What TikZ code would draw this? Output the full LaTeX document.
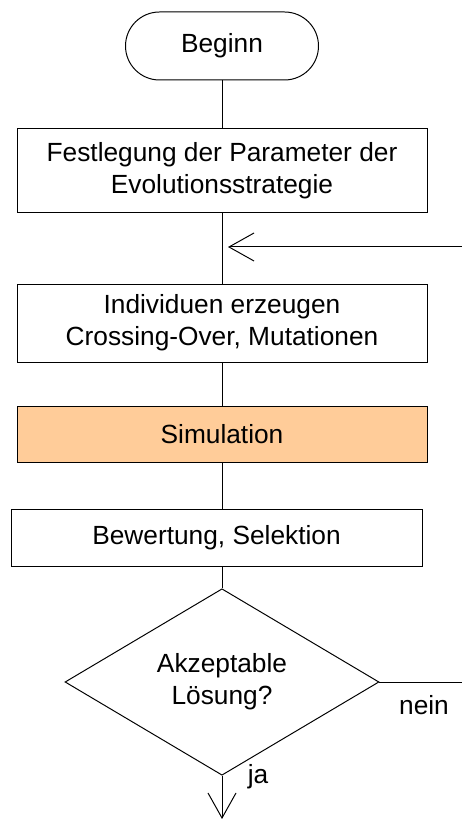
\documentclass[tikz,border=0pt]{standalone}
\usepackage{fontspec}
\setmainfont{Liberation Sans}
\usetikzlibrary{arrows.meta,shapes.geometric}
\definecolor{simorange}{HTML}{FFCC99}
\tikzset{
  esbox/.style={draw=black, line width=0.7pt, align=center, font=\fontsize{18.7}{22.7}\selectfont,
    inner sep=2pt, minimum width=10.25cm, fill=white},
  esstart/.style={esbox, rounded corners=0.85cm, minimum width=4.825cm, minimum height=1.7cm},
  essim/.style={esbox, fill=simorange},
  esdec/.style={diamond, draw=black, line width=0.7pt, align=center, font=\fontsize{18.7}{22.7}\selectfont,
    inner sep=0pt, minimum width=7.85cm, minimum height=3.75cm},
  eslabel/.style={font=\fontsize{18.7}{22.7}\selectfont, inner sep=0pt, anchor=base},
  esline/.style={draw=black, line width=0.7pt},
  esarrow/.style={esline, -{Straight Barb[length=0.625cm, width=0.7cm]}}
}
\begin{document}
\begin{tikzpicture}
  \useasboundingbox (0,0) rectangle (11.55,20.525);
  \node[esstart] (beginn) at (5.55,19.375) {Beginn};
  \node[esbox, minimum height=2.1cm] (festl) at (5.55,16.25) {Festlegung der Parameter der\\Evolutionsstrategie};
  \node[esbox, minimum height=1.95cm] (indiv) at (5.55,12.45) {Individuen erzeugen\\Crossing-Over, Mutationen};
  \node[essim, minimum height=1.4cm] (simul) at (5.55,9.675) {Simulation};
  \node[esbox, minimum height=1.425cm, minimum width=10.275cm] (bewert) at (5.4125,7.0875) {Bewertung, Selektion};
  \node[esdec] (akzept) at (5.55,3.475) {Akzeptable\\Lösung?};
  \coordinate (zurueck) at (11.55,14.35);
  \coordinate (weiter) at (11.55,3.475);
  \coordinate (ende) at (5.55,0.05);
  \node[eslabel] (nein) at (10.6,2.65) {nein};
  \node[eslabel] (ja) at (6.45,0.95) {ja};
  \draw[esline] (beginn) -- (festl);
  \draw[esline] (festl) -- (indiv);
  \draw[esline] (indiv) -- (simul);
  \draw[esline] (simul) -- (simul |- bewert.north);
  \draw[esline] (akzept |- bewert.south) -- (akzept);
  \draw[esarrow, shorten >=0.15cm] (zurueck) -- (festl.south |- zurueck);
  \draw[esline] (akzept.east) -- (weiter);
  \draw[esarrow] (akzept.south) -- (ende);
\end{tikzpicture}
\end{document}
